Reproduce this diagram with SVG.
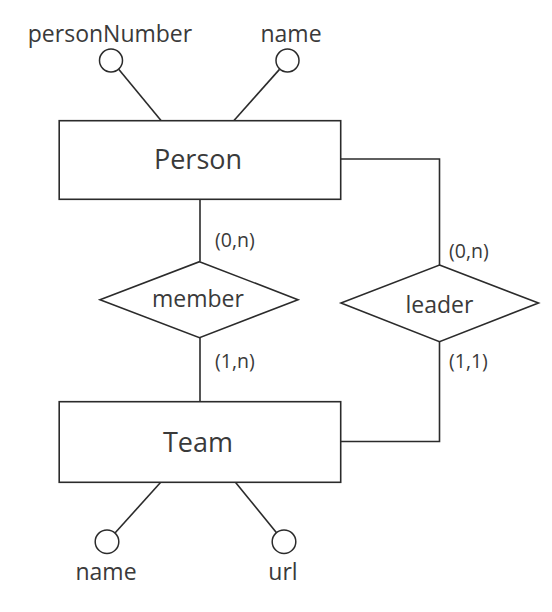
<svg xmlns="http://www.w3.org/2000/svg" width="552" height="612" viewBox="0 0 552 612">
<style>
.shape{fill:#fff;stroke:#2b2b2b;stroke-width:1.6}
.attr{fill:#fff;stroke:#2b2b2b;stroke-width:1.5}
.conn{fill:none;stroke:#2b2b2b;stroke-width:1.6}
text{font-family:"Open Sans","Noto Sans","DejaVu Sans",sans-serif;fill:#3a3a3a;text-anchor:middle}
.ent{font-size:27px}
.rel{font-size:23px}
.at{font-size:23px}
.card{font-size:19.5px;text-anchor:start}
</style>
<rect width="552" height="612" fill="#fff"/>
<g id="connectors">
<line class="conn" x1="118.7" y1="69.2" x2="161" y2="120.5"/>
<line class="conn" x1="279.5" y1="69.4" x2="234" y2="120.5"/>
<line class="conn" x1="200" y1="199.5" x2="200" y2="261.5"/>
<line class="conn" x1="200" y1="337.5" x2="200" y2="401.5"/>
<polyline class="conn" points="340.5,159 439.5,159 439.5,265"/>
<polyline class="conn" points="439.5,341.5 439.5,441.5 340.5,441.5"/>
<line class="conn" x1="115" y1="533" x2="160.5" y2="482.5"/>
<line class="conn" x1="276.5" y1="532.7" x2="235.6" y2="482.5"/>
<text class="card" x="215" y="247">(0,n)</text>
<text class="card" x="215" y="368">(1,n)</text>
<text class="card" x="449" y="258">(0,n)</text>
<text class="card" x="449" y="368">(1,1)</text>
</g>
<g id="person">
<rect class="shape" x="59.2" y="120.7" width="281.5" height="78.6"/>
<text class="ent" x="198" y="168.5">Person</text>
</g>
<g id="team">
<rect class="shape" x="59.2" y="401.7" width="281.5" height="80.6"/>
<text class="ent" x="198" y="451.5">Team</text>
</g>
<g id="member">
<polygon class="shape" points="199.5,261.7 298,299.7 199.5,337.7 100,299.7"/>
<text class="rel" x="198" y="307">member</text>
</g>
<g id="leader">
<polygon class="shape" points="439.5,265 538.5,303 439.5,341.7 341,303"/>
<text class="rel" x="439.5" y="313">leader</text>
</g>
<g id="attr-personNumber">
<circle class="attr" cx="111" cy="60.5" r="11.5"/>
<text class="at" x="110" y="41.5">personNumber</text>
</g>
<g id="attr-person-name">
<circle class="attr" cx="287.5" cy="60.5" r="11.5"/>
<text class="at" x="291" y="41.5">name</text>
</g>
<g id="attr-team-name">
<circle class="attr" cx="107" cy="541.7" r="11.8"/>
<text class="at" x="106" y="580">name</text>
</g>
<g id="attr-url">
<circle class="attr" cx="284" cy="541.7" r="11.8"/>
<text class="at" x="283" y="580">url</text>
</g>
</svg>
